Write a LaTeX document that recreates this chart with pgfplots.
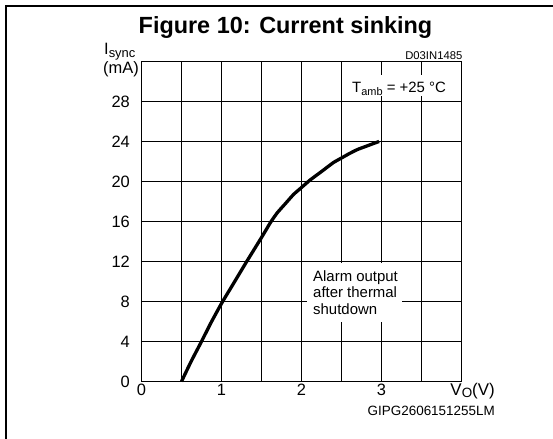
\documentclass[border=0pt]{standalone}
\usepackage{pgfplots}
\pgfplotsset{compat=1.18}
\usepackage{fontspec}
\setmainfont{Liberation Sans}
\begin{document}
\begin{tikzpicture}
\begin{axis}[
  at={(0,0)}, anchor=south west,
  scale only axis, width=320bp, height=320bp,
  xmin=0, xmax=4, ymin=0, ymax=32,
  xtick={0,0.5,1,1.5,2,2.5,3,3.5},
  xticklabels={0,,1,,2,,3,},
  ytick={0,4,...,28},
  xmajorgrids, ymajorgrids,
  grid style={black, line width=1.25bp},
  axis line style={black, line width=1.3bp},
  major tick length=0pt,
  /pgf/number format/assume math mode=true,
  ticklabel style={font=\fontsize{16.5}{19}\selectfont},
  xticklabel style={anchor=base, yshift=-13.5bp, inner sep=0pt},
  yticklabel style={anchor=east, inner sep=0pt, xshift=-11.5bp},
  clip=false,
]
\addplot[black, line width=3.3bp, line join=round, mark=none, smooth, tension=0.3] coordinates {
 (0.5,0) (0.62,2) (0.75,4) (0.87,5.9) (1.0,7.8) (1.15,9.8) (1.3,11.8) (1.5,14.4) (1.62,16)
 (1.7,16.9) (1.8,17.8) (1.9,18.7) (2.0,19.4) (2.1,20.1) (2.2,20.7) (2.3,21.3) (2.4,21.9)
 (2.5,22.35) (2.6,22.8) (2.7,23.2) (2.8,23.5) (2.9,23.8) (2.97,24)
};
\end{axis}
% white label boxes over the grid
\fill[white] (165.5bp,59.5bp) rectangle (260.5bp,118.5bp);
\fill[white] (203.5bp,285.5bp) rectangle (318.5bp,306.5bp);
% texts
\node[anchor=base, inner sep=0pt, font=\bfseries\fontsize{23.5}{28}\selectfont] at (144bp,348bp) {Figure 10: Current sinking};
\node[anchor=base west, inner sep=0pt, font=\fontsize{16.5}{19}\selectfont] at (-37.5bp,326.5bp) {I\raisebox{-0.3ex}{\fontsize{13}{15}\selectfont sync}};
\node[anchor=base east, inner sep=0pt, font=\fontsize{16.5}{19}\selectfont] at (-2.5bp,307.5bp) {(mA)};
\node[anchor=base east, inner sep=0pt, font=\fontsize{11.3}{13}\selectfont] at (321bp,322.2bp) {D03IN1485};
\node[anchor=base west, inner sep=0pt, font=\fontsize{15}{17}\selectfont] at (210.5bp,288.5bp) {T\raisebox{-0.3ex}{\fontsize{11}{12}\selectfont amb} = +25 °C};
\node[anchor=base west, inner sep=0pt, font=\fontsize{15}{17}\selectfont] at (171.5bp,100bp) {Alarm output};
\node[anchor=base west, inner sep=0pt, font=\fontsize{15}{17}\selectfont] at (171.5bp,83.5bp) {after thermal};
\node[anchor=base west, inner sep=0pt, font=\fontsize{15}{17}\selectfont] at (171.5bp,67bp) {shutdown};
\node[anchor=base east, inner sep=0pt, font=\fontsize{17}{19}\selectfont] at (353.5bp,-13.5bp) {V\raisebox{-0.3ex}{\fontsize{13.5}{15}\selectfont O}(V)};
\node[anchor=base east, inner sep=0pt, font=\fontsize{13.5}{15}\selectfont] at (353.5bp,-33.5bp) {GIPG2606151255LM};
% outer frame
\draw[line width=2bp] (-135bp,-70bp) -- (-135bp,375.5bp) -- (420bp,375.5bp);
\pgfresetboundingbox
\path[use as bounding box] (-141.5bp,-57.5bp) rectangle (411.5bp,381.5bp);
\end{tikzpicture}
\end{document}
